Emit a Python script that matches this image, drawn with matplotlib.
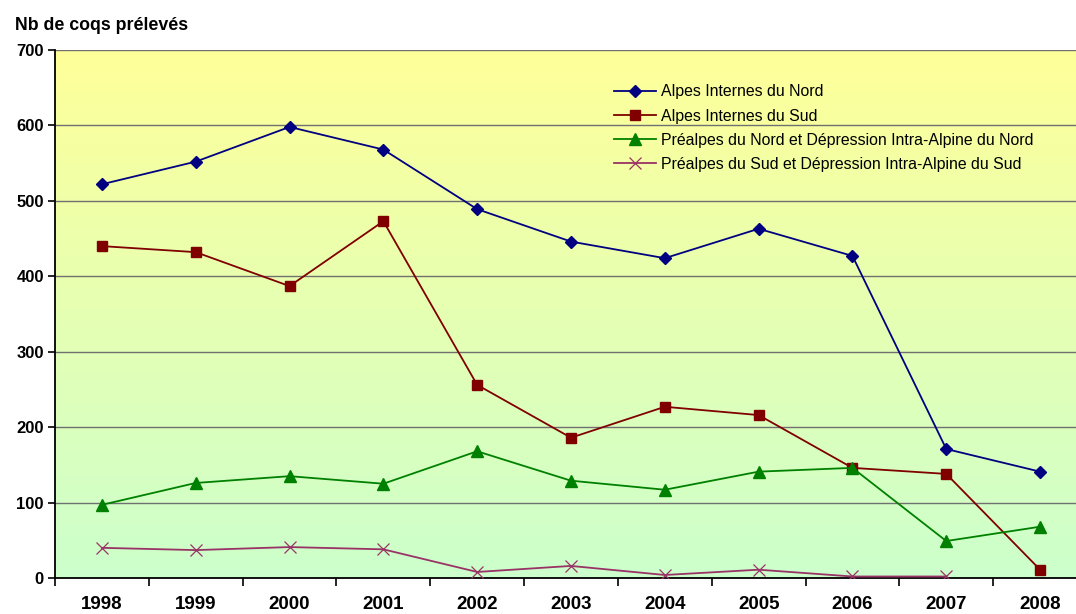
import numpy as np
import matplotlib
matplotlib.use("Agg")
import matplotlib.pyplot as plt
from matplotlib.colors import LinearSegmentedColormap

plt.rcParams['font.family'] = ['Liberation Sans', 'DejaVu Sans']

# ─── data ────────────────────────────────────────────────────────
years = ["1998", "1999", "2000", "2001", "2002", "2003",
         "2004", "2005", "2006", "2007", "2008"]
alpes_nord = [522, 552, 598, 568, 489, 446, 424, 463, 427, 171, 141]
alpes_sud = [440, 432, 387, 473, 256, 186, 227, 216, 146, 138, 11]
prealpes_nord = [97, 126, 135, 125, 168, 129, 117, 141, 146, 49, 68]
prealpes_sud = [40, 37, 41, 38, 8, 16, 4, 11, 2, 2]

labels = ["Alpes Internes du Nord",
          "Alpes Internes du Sud",
          "Préalpes du Nord et Dépression Intra-Alpine du Nord",
          "Préalpes du Sud et Dépression Intra-Alpine du Sud"]

fig = plt.figure(figsize=(10.76, 6.14), dpi=100)
ax = fig.add_axes([55 / 1076, 36 / 614, 1032 / 1076, 528 / 614])

# background gradient yellow -> light green
cmap = LinearSegmentedColormap.from_list("bg", ["#CCFFCC", "#FFFF99"])
grad = np.linspace(0, 1, 256).reshape(-1, 1)
ax.imshow(grad, cmap=cmap, origin="lower", aspect="auto",
          extent=[-0.5, 10.5, 0, 700], zorder=0)

for yv in range(100, 701, 100):
    ax.axhline(yv, color="#707070", lw=1, zorder=1)

x = np.arange(len(years))
ax.plot(x, alpes_nord, color="#000080", lw=1.3, marker="D", ms=6,
        label=labels[0], zorder=3)
ax.plot(x, alpes_sud, color="#800000", lw=1.3, marker="s", ms=7.5,
        label=labels[1], zorder=3)
ax.plot(x, prealpes_nord, color="#008000", lw=1.3, marker="^", ms=8,
        label=labels[2], zorder=3)
ax.plot(x[:len(prealpes_sud)], prealpes_sud, color="#993366", lw=1.3,
        marker="x", ms=8, mew=0.9, label=labels[3], zorder=3)

ax.set_xlim(-0.5, 10.5)
ax.set_ylim(0, 700)
ax.set_yticks(range(0, 701, 100))
ax.set_yticklabels([str(v) for v in range(0, 701, 100)],
                   fontsize=12, fontweight="bold")
ax.set_xticks(x)
ax.set_xticklabels(years, fontsize=13.5, fontweight="bold")
ax.set_xticks(np.arange(-0.5, 10.6, 1), minor=True)
ax.tick_params(axis="x", which="major", length=0, pad=13)
ax.tick_params(axis="x", which="minor", length=6, width=1.2, direction="out")
ax.tick_params(axis="y", length=5, width=1.2, direction="out", pad=3)

for side in ["top", "right"]:
    ax.spines[side].set_visible(False)
ax.spines["left"].set_linewidth(1.3)
ax.spines["bottom"].set_linewidth(1.3)

leg = ax.legend(loc="upper left", bbox_to_anchor=(0.536, 0.947),
                frameon=False, fontsize=11.4, handlelength=2.6,
                handletextpad=0.35, labelspacing=0.58, borderaxespad=0)

fig.text(15 / 1076, 1 - 25 / 614, "Nb de coqs prélevés", fontsize=12.8,
         fontweight="bold", va="center", ha="left")

fig.savefig("out.png", dpi=100)
